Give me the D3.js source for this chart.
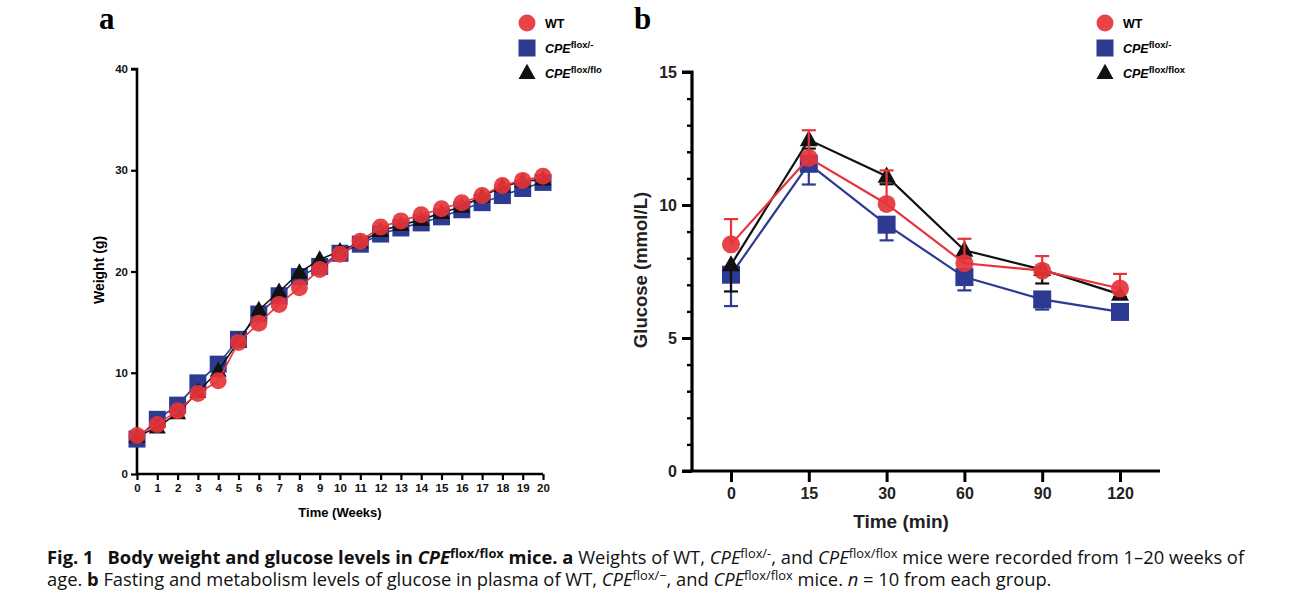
<!DOCTYPE html>
<html>
<head>
<meta charset="utf-8">
<script src="https://cdn.jsdelivr.net/npm/d3@7"></script>
<style>
  body { margin: 0; background: #fff; }
  svg { display: block; }
</style>
</head>
<body>
<svg id="fig" width="1302" height="604"></svg>
<script>
// panel a data
var weeks = [0, 1, 2, 3, 4, 5, 6, 7, 8, 9, 10, 11, 12, 13, 14, 15, 16, 17, 18, 19, 20];
var wtWeight = [3.8, 4.9, 6.25, 7.95, 9.2, 13.0, 14.9, 16.75, 18.4, 20.2, 21.7, 23.0, 24.4, 25.0, 25.6, 26.2, 26.8, 27.5, 28.5, 29.0, 29.4];
var floxMinusWeight = [3.45, 5.4, 6.8, 9.0, 10.85, 13.3, 15.8, 17.6, 19.5, 20.5, 21.8, 22.7, 23.7, 24.3, 24.8, 25.4, 26.1, 26.8, 27.5, 28.2, 28.8];
var floxFloxWeight = [3.7, 4.6, 6.0, 8.1, 10.2, 13.1, 16.2, 18.0, 19.9, 21.2, 22.0, 22.9, 24.0, 24.6, 25.1, 25.8, 26.4, 27.4, 28.4, 28.9, 29.1];
var weightTicks = [0, 10, 20, 30, 40];

// panel b data
var times = ["0", "15", "30", "60", "90", "120"];
var wtGlucose = [8.52, 11.77, 10.04, 7.81, 7.53, 6.86];
var wtErr = [0.95, 1.04, 1.26, 0.92, 0.55, 0.55];
var floxMinusGlucose = [7.38, 11.55, 9.26, 7.29, 6.45, 5.98];
var floxMinusErr = [1.18, 0.78, 0.59, 0.5, 0.38, 0];
var floxFloxGlucose = [7.75, 12.45, 11.08, 8.3, 7.57, 6.64];
var floxFloxErr = [1.0, 0.33, 0.3, 0.3, 0.52, 0.1];
var glucoseTicks = [0, 5, 10, 15];

var RED = "#e5343b", BLUE = "#2c3a92", BLACK = "#111";
var svg = d3.select("#fig");
var axisFont = "'Liberation Sans', Arial, sans-serif";

function marker(g, shape, x, y, size, color) {
  if (shape == "circle") {
    g.append("circle").attr("cx", x).attr("cy", y).attr("r", size / 2)
      .attr("fill", color).attr("fill-opacity", 0.92);
  } else if (shape == "square") {
    g.append("rect").attr("x", x - size / 2).attr("y", y - size / 2)
      .attr("width", size).attr("height", size).attr("fill", color);
  } else {
    var h = size * 0.9;
    g.append("path")
      .attr("d", "M" + x + "," + (y - h * 0.6) + "L" + (x + size / 2) + "," + (y + h * 0.4) + "L" + (x - size / 2) + "," + (y + h * 0.4) + "Z")
      .attr("fill", color);
  }
}

function legend(x0, y0, fs, label3) {
  var g = svg.append("g").attr("font-family", axisFont);
  var items = [["circle", RED, "WT", null], ["square", BLUE, "CPE", "flox/-"], ["tri", BLACK, "CPE", label3]];
  items.forEach(function(it, i) {
    var y = y0 + i * 25;
    marker(g, it[0], x0, y, 17, it[1]);
    var t = g.append("text").attr("x", x0 + 18).attr("y", y + 5).attr("font-size", fs).attr("font-weight", "bold");
    if (!it[3]) { t.text(it[2]); return; }
    t.append("tspan").attr("font-style", "italic").text(it[2]);
    t.append("tspan").attr("dy", -5).attr("font-size", fs - 3).text(it[3]);
  });
}

// ---------- panel a ----------
var xA = d3.scaleLinear().domain([0, 20]).range([137, 543]);
var yA = d3.scaleLinear().domain([0, 40]).range([474, 69]);

svg.append("text").attr("x", 99).attr("y", 29).attr("font-family", "'Liberation Serif', serif")
  .attr("font-weight", "bold").attr("font-size", 31).text("a");

var axA = svg.append("g").attr("font-family", axisFont);
axA.append("g").attr("transform", "translate(0,474)")
  .call(d3.axisBottom(xA).tickValues(weeks).tickSize(6).tickPadding(4).tickFormat(d3.format("d")))
  .call(function(g) {
    g.select(".domain").attr("stroke-width", 2.6).attr("d", "M137,0H543");
    g.selectAll(".tick line").attr("stroke-width", 2.2);
    g.selectAll("text").attr("font-size", 11.5).attr("font-weight", "bold").attr("fill", "#111");
  });
axA.append("g").attr("transform", "translate(137,0)")
  .call(d3.axisLeft(yA).tickValues(weightTicks).tickSize(6).tickPadding(3))
  .call(function(g) {
    g.select(".domain").attr("stroke-width", 2.6).attr("d", "M-6,69H0V474");
    g.selectAll(".tick line").attr("stroke-width", 2.2);
    g.selectAll("text").attr("font-size", 11.5).attr("font-weight", "bold").attr("fill", "#111");
  });
axA.append("text").attr("x", 340).attr("y", 517).attr("text-anchor", "middle")
  .attr("font-size", 13).attr("font-weight", "bold").text("Time (Weeks)");
axA.append("text").attr("transform", "translate(104,270) rotate(-90)").attr("text-anchor", "middle")
  .attr("font-size", 14).attr("font-weight", "bold").text("Weight (g)");

var seriesA = [
  [floxMinusWeight, "square", BLUE],
  [floxFloxWeight, "tri", BLACK],
  [wtWeight, "circle", RED]
];
var lineA = d3.line().x(function(d, i) { return xA(weeks[i]); }).y(function(d) { return yA(d); });
seriesA.forEach(function(s) {
  var g = svg.append("g");
  g.append("path").attr("d", lineA(s[0])).attr("fill", "none").attr("stroke", s[2]).attr("stroke-width", 1.6);
  s[0].forEach(function(v, i) { marker(g, s[1], xA(weeks[i]), yA(v), 17, s[2]); });
});
legend(527, 23, 12.5, "flox/flo");

// ---------- panel b ----------
var xB = d3.scalePoint().domain(times).range([731, 1120]);
var yB = d3.scaleLinear().domain([0, 15]).range([471, 72]);

svg.append("text").attr("x", 634).attr("y", 29).attr("font-family", "'Liberation Serif', serif")
  .attr("font-weight", "bold").attr("font-size", 31).text("b");

var axB = svg.append("g").attr("font-family", axisFont);
axB.append("g").attr("transform", "translate(0,471)")
  .call(d3.axisBottom(xB).tickSize(11).tickPadding(6))
  .call(function(g) {
    g.select(".domain").attr("stroke-width", 3.2).attr("d", "M682,0H1160");
    g.selectAll(".tick line").attr("stroke-width", 3);
    g.selectAll("text").attr("font-size", 16).attr("font-weight", "bold").attr("fill", "#222");
  });
axB.append("g").attr("transform", "translate(692,0)")
  .call(d3.axisLeft(yB).ticks(15).tickSize(5).tickFormat(function() { return ""; }))
  .call(function(g) {
    g.select(".domain").remove();
    g.selectAll(".tick line").attr("stroke-width", 2.4);
  });
axB.append("g").attr("transform", "translate(692,0)")
  .call(d3.axisLeft(yB).tickValues(glucoseTicks).tickSize(10).tickPadding(5))
  .call(function(g) {
    g.select(".domain").attr("stroke-width", 3.2).attr("d", "M-10,72H0V471");
    g.selectAll(".tick line").attr("stroke-width", 3);
    g.selectAll("text").attr("font-size", 16).attr("font-weight", "bold").attr("fill", "#222");
  });
axB.append("text").attr("x", 901).attr("y", 528).attr("text-anchor", "middle")
  .attr("font-size", 19).attr("font-weight", "bold").attr("fill", "#222").text("Time (min)");
axB.append("text").attr("transform", "translate(647,270) rotate(-90)").attr("text-anchor", "middle")
  .attr("font-size", 18.5).attr("font-weight", "bold").attr("fill", "#222").text("Glucose (mmol/L)");

// [values, errors, direction, shape, colour]
var seriesB = [
  [floxMinusGlucose, floxMinusErr, -1, "square", BLUE],
  [floxFloxGlucose, floxFloxErr, -1, "tri", BLACK],
  [wtGlucose, wtErr, 1, "circle", RED]
];
var lineB = d3.line().x(function(d, i) { return xB(times[i]); }).y(function(d) { return yB(d); });
seriesB.forEach(function(s) {
  var g = svg.append("g");
  g.append("path").attr("d", lineB(s[0])).attr("fill", "none").attr("stroke", s[4]).attr("stroke-width", 2.2);
  s[0].forEach(function(v, i) {
    if (s[1][i] <= 0) return;
    var x = xB(times[i]), yEnd = yB(v + s[2] * s[1][i]);
    g.append("line").attr("x1", x).attr("x2", x).attr("y1", yB(v)).attr("y2", yEnd)
      .attr("stroke", s[4]).attr("stroke-width", 2.2);
    g.append("line").attr("x1", x - 7).attr("x2", x + 7).attr("y1", yEnd).attr("y2", yEnd)
      .attr("stroke", s[4]).attr("stroke-width", 2.2);
  });
  s[0].forEach(function(v, i) { marker(g, s[3], xB(times[i]), yB(v), 18, s[4]); });
});
legend(1105, 23, 12.5, "flox/flox");

// ---------- caption ----------
var cap = svg.append("g").attr("font-family", "'Open Sans', 'Noto Sans', sans-serif").attr("fill", "#111");
function sup(t, s, bold) {
  t.append("tspan").attr("dy", -6).attr("font-size", "0.7em").attr("font-weight", bold ? "bold" : null).text(s);
  return t.append("tspan").attr("dy", 6);
}
var l1 = cap.append("text").attr("x", 47).attr("y", 564).attr("font-size", 17);
l1.append("tspan").attr("font-weight", "bold").text("Fig. 1");
l1.append("tspan").attr("dx", 14).attr("font-weight", "bold").text("Body weight and glucose levels in ");
l1.append("tspan").attr("font-weight", "bold").attr("font-style", "italic").text("CPE");
sup(l1, "flox/flox", true).attr("font-weight", "bold").text(" mice. a");
l1.append("tspan").text(" Weights of WT, ");
l1.append("tspan").attr("font-style", "italic").text("CPE");
sup(l1, "flox/-").text(", and ");
l1.append("tspan").attr("font-style", "italic").text("CPE");
sup(l1, "flox/flox").text(" mice were recorded from 1–20 weeks of");

var l2 = cap.append("text").attr("x", 47).attr("y", 586).attr("font-size", 17);
l2.append("tspan").text("age. ");
l2.append("tspan").attr("font-weight", "bold").text("b");
l2.append("tspan").text(" Fasting and metabolism levels of glucose in plasma of WT, ");
l2.append("tspan").attr("font-style", "italic").text("CPE");
sup(l2, "flox/\u2212").text(", and ");
l2.append("tspan").attr("font-style", "italic").text("CPE");
sup(l2, "flox/flox").text(" mice. ");
l2.append("tspan").attr("font-style", "italic").text("n");
l2.append("tspan").text(" = 10 from each group.");

// fit caption width to the reference line length
var w1 = l1.node().getComputedTextLength();
var fs = 17 * 1184 / w1;
l1.attr("font-size", fs);
l2.attr("font-size", fs);
</script>
</body>
</html>
